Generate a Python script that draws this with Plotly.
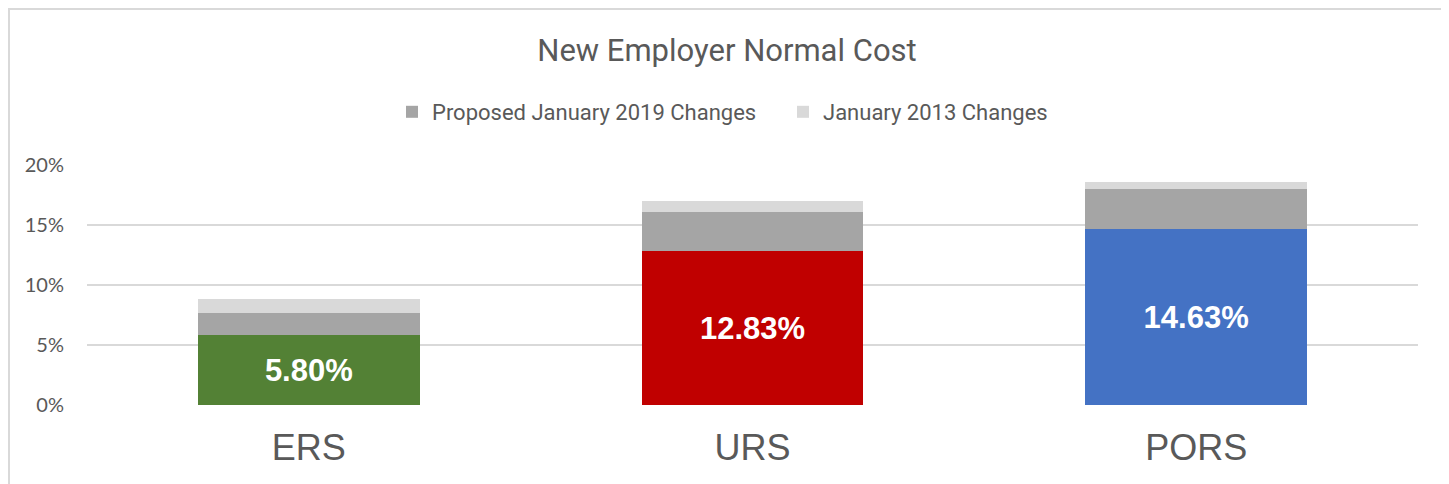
import plotly.graph_objects as go

categories = ["ERS", "URS", "PORS"]
base_values = [5.80, 12.83, 14.63]
base_labels = ["5.80%", "12.83%", "14.63%"]
base_colors = ["#538135", "#C00000", "#4472C4"]
proposed_2019 = [1.87, 3.25, 3.37]
changes_2013 = [1.17, 0.92, 0.56]
y_ticks = [0, 5, 10, 15, 20]
y_tick_labels = ["0%", "5%", "10%", "15%", "20%"]

narrow = "Liberation Sans Narrow, Arial Narrow, Roboto, sans-serif"
grey_text = "#595959"

fig = go.Figure()
fig.add_trace(go.Bar(
    x=categories, y=base_values, marker=dict(color=base_colors, line=dict(width=0)),
    text=base_labels, textposition="inside", insidetextanchor="middle",
    textfont=dict(family="Liberation Sans, Arial, sans-serif", size=31, color="white", weight="bold"),
    showlegend=False, hoverinfo="skip", width=0.5,
))
fig.add_trace(go.Bar(
    x=categories, y=proposed_2019, name="Proposed January 2019 Changes",
    marker=dict(color="#A5A5A5", line=dict(width=0)), width=0.5,
))
fig.add_trace(go.Bar(
    x=categories, y=changes_2013, name="January 2013 Changes",
    marker=dict(color="#D9D9D9", line=dict(width=0)), width=0.5,
))

# page has an 8px body margin; the figure starts at page (8, 8)
OFF = 8
W, H = 1449 - OFF, 484 - OFF
L, T = 87 - OFF, 165 - OFF
R = W - (1418 - OFF)
B = H - (405 - OFF)
pw, ph = W - L - R, H - T - B

def px_x(p):
    return (p - OFF - L) / pw

def px_y(p):
    return (H - B - (p - OFF)) / ph

fig.update_layout(
    width=W, height=H,
    barmode="stack",
    paper_bgcolor="white", plot_bgcolor="white",
    margin=dict(l=L, r=R, t=T, b=B),
    title=dict(text="New Employer Normal Cost", x=(727 - OFF) / W, xref="container", xanchor="center",
               y=1 - (50 - OFF) / H, yanchor="middle",
               font=dict(family=narrow, size=31, color=grey_text)),
    legend=dict(orientation="h", x=px_x(392), xref="paper", xanchor="left",
                y=1 - (112 - OFF) / H, yref="container", yanchor="middle",
                font=dict(family=narrow, size=22, color=grey_text),
                traceorder="normal", itemclick=False,
                entrywidthmode="pixels", entrywidth=346),
    xaxis=dict(showgrid=False, zeroline=False, showline=False, ticks="",
               tickfont=dict(family="Liberation Sans, Arial, sans-serif", size=36, color=grey_text),
               ticklabelstandoff=18),
    yaxis=dict(range=[0, 20], tickvals=y_ticks, ticktext=y_tick_labels,
               showgrid=True, gridcolor="#D9D9D9", gridwidth=2, zeroline=False,
               showline=False, ticks="",
               tickfont=dict(family="Lato, Carlito, sans-serif", size=20, color=grey_text),
               ticklabelstandoff=22),
    shapes=[dict(type="rect", xref="paper", yref="paper",
                 x0=px_x(OFF + 1), x1=px_x(1445), y0=px_y(520), y1=px_y(OFF + 1),
                 line=dict(color="#D9D9D9", width=2), fillcolor="rgba(0,0,0,0)", layer="below")],
)

fig.write_html("out.html")
